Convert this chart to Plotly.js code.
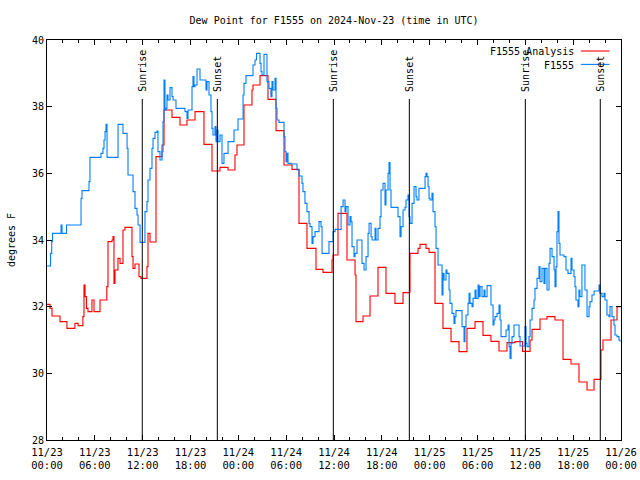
<!DOCTYPE html>
<html>
<head>
<meta charset="utf-8">
<script src="https://cdn.plot.ly/plotly-3.0.1.min.js"></script>
<style>html,body{margin:0;padding:0;background:#fff;}#chart{width:640px;height:480px;}</style>
</head>
<body>
<div id="chart"></div>
<script>
// Hours since 2024-11-23 00:00 UTC and dew point values (deg F)
var redHours = [0,0.38,0.63,1.63,2.5,3.5,3.9,4.5,4.64,4.77,
  4.95,5.14,5.64,5.9,6.65,7.5,7.65,8.15,8.28,8.4,
  8.53,8.9,9.16,9.53,9.78,10.66,10.79,11.04,11.54,11.79,
  12.54,12.67,12.92,13.67,14.43,14.68,15.68,16.68,17.56,
  18.57,19.69,20.7,21.7,22.7,23.58,23.83,24.71,25.71,25.84,
  26.72,27.72,28.73,29.73,30.73,31.61,32.61,33.74,34.62,35.75,
  35.88,36.5,37.63,38.64,38.76,39.64,40.52,41.52,42.52,43.65,
  44.66,45.53,46.54,46.79,47.54,47.92,48.67,49.67,50.68,51.68,
  52.68,53.69,54.69,55.69,56.7,57.7,58.7,59.65,60.59,60.84,
  61.84,62.72,63.72,64.73,65.73,66.73,67.74,68.62,69.49,69.74,
  70.75,71.5,72];
var redValues = [32.07,31.95,31.72,31.55,31.35,31.5,31.43,31.7,32.65,32.3,
  31.95,31.85,32.2,31.85,32.2,32.6,33.95,34.0,34.1,32.7,
  33.1,33.45,33.3,34.3,34.38,33.5,33.15,33.28,32.9,32.85,
  33.2,34.2,33.94,36.5,36.85,37.9,37.68,37.45,37.6,
  37.85,36.87,36.07,36.18,36.1,36.55,36.85,38.05,38.5,38.65,
  38.93,38.22,37.28,36.25,36.12,34.5,33.75,33.12,33.03,33.4,
  33.55,34.8,33.4,32.95,31.55,31.72,32.32,33.18,32.4,32.1,
  32.42,33.6,33.75,33.87,33.75,33.63,32.1,31.35,30.95,30.65,
  31.35,31.55,31.14,30.96,30.67,30.92,30.95,30.66,31.0,31.32,
  31.63,31.7,31.6,30.42,30.28,29.74,29.5,29.82,30.7,31.0,
  31.6,32.0,32.0];

var blueHours = [0,0.44,0.59,0.69,1.76,1.88,2.45,4.27,4.39,5.27,
  5.39,6.77,7.02,7.15,7.28,7.40,7.53,8.91,9.53,10.04,
  10.16,10.79,11.04,11.29,11.42,11.67,12.29,12.54,12.67,12.92,
  13.17,13.30,13.55,13.80,13.92,14.17,14.43,14.55,14.68,14.80,
  14.93,15.05,15.18,15.43,15.68,15.81,16.18,17.31,17.56,17.69,
  18.19,18.31,18.44,18.57,18.82,19.19,19.94,20.07,20.32,20.57,
  20.70,20.82,21.07,21.20,21.32,21.45,21.70,21.95,22.20,22.71,
  23.46,23.96,24.59,24.71,24.96,25.84,26.09,26.28,26.72,26.85,
  26.97,27.22,27.59,27.84,28.09,28.22,28.35,28.60,28.73,28.85,
  29.10,29.73,29.85,29.98,30.11,30.23,30.61,31.36,31.61,31.99,
  32.11,32.36,32.61,32.87,32.99,33.24,33.37,33.62,34.12,34.37,
  34.50,35.37,35.88,36.13,36.89,37.14,37.38,37.51,37.76,38.01,
  38.14,38.26,38.51,38.64,38.89,39.51,39.77,40.02,40.27,40.40,
  40.65,40.77,41.15,41.27,41.52,41.77,41.90,42.15,42.40,42.52,
  42.78,42.90,43.03,43.15,44.03,44.28,44.41,44.66,44.91,45.03,
  45.28,45.41,45.53,45.79,46.04,46.29,46.41,46.66,47.42,47.54,
  47.67,47.80,47.92,48.04,48.29,48.42,48.67,48.80,49.05,49.55,
  49.67,49.80,50.05,50.17,50.43,50.55,50.80,51.05,51.18,51.30,
  52.06,52.31,52.43,52.56,52.81,52.94,53.06,53.31,53.44,53.69,
  53.82,54.07,54.19,54.32,54.57,54.82,54.94,55.20,55.69,55.95,
  56.07,56.20,56.45,56.70,56.83,56.95,57.58,57.83,57.96,58.08,
  58.21,58.33,58.58,59.21,59.34,59.96,60.09,60.21,60.46,60.59,
  60.84,61.09,61.21,61.47,61.72,61.84,62.09,62.34,62.47,62.72,
  62.97,63.10,63.35,63.60,63.72,63.85,63.97,64.10,64.22,64.35,
  64.85,65.10,65.35,65.73,65.85,66.10,66.23,66.35,66.60,66.73,
  66.85,67.10,67.48,67.74,67.99,68.11,68.36,68.62,69.24,69.37,
  69.62,69.87,69.99,70.24,70.49,70.62,70.87,71.12,71.25,71.50,
  71.75,71.87];
var blueValues = [33.22,33.6,33.95,34.2,34.45,34.2,34.45,35.25,35.48,35.75,
  36.48,36.6,36.75,37.0,37.25,37.47,36.48,37.47,37.2,36.75,
  35.95,35.45,34.95,34.75,34.45,33.93,34.85,35.15,35.8,36.15,
  36.75,37.05,37.23,37.27,36.65,36.4,36.65,37.55,38.8,37.9,
  37.95,38.35,38.2,38.57,38.3,38.2,37.95,37.85,37.65,37.9,
  38.6,38.9,38.6,38.65,39.13,38.8,38.5,38.75,38.35,37.85,
  37.35,37.15,37.4,36.95,37.3,36.95,37.15,36.3,36.6,36.95,
  37.3,37.63,38.35,38.7,38.93,39.25,39.4,39.6,39.3,39.05,
  38.95,39.57,38.75,38.55,38.3,38.75,38.5,38.85,37.95,37.6,
  37.53,37.1,36.65,36.35,36.6,36.3,36.28,36.1,35.92,35.7,
  35.45,35.1,34.85,34.5,34.4,33.9,34.1,34.25,34.55,34.4,
  33.6,33.95,34.25,34.32,35.0,35.2,34.85,35.0,34.45,34.7,
  34.55,33.8,33.5,33.6,34.0,33.3,33.1,33.5,34.2,34.5,
  34.1,34.0,34.35,34.0,34.35,34.7,35.5,35.7,35.05,35.5,
  36.0,36.32,35.5,34.98,34.7,34.1,34.4,34.9,34.98,35.2,
  35.35,34.7,34.5,35.1,35.6,35.3,35.2,35.55,35.9,36.0,
  35.9,35.6,35.25,35.2,35.4,34.85,34.4,33.75,33.25,32.35,
  33.0,32.8,33.1,33.0,32.5,32.1,31.8,31.5,31.7,31.88,
  31.4,30.95,31.4,31.75,32.1,32.4,32.1,32.0,32.25,32.5,
  32.25,32.65,32.3,32.6,32.3,32.5,32.3,32.63,32.05,31.45,
  31.6,31.7,31.8,32.05,31.6,31.1,31.3,31.45,30.8,30.45,
  30.9,31.1,31.45,31.1,30.82,31.4,30.9,30.8,31.1,31.6,
  31.95,32.2,32.55,32.85,33.2,32.75,33.15,32.7,33.15,32.5,
  33.3,33.75,33.5,33.1,32.6,33.2,34.25,34.85,33.9,33.55,
  33.5,33.1,33.0,33.45,33.1,32.9,32.6,32.2,32.0,32.5,
  32.3,33.25,32.5,31.7,32.0,32.15,32.35,32.47,32.65,32.4,
  32.3,32.4,32.2,31.75,31.7,32.0,31.7,31.45,31.15,31.1,
  31.0,30.95];

var sunriseTimes = ['2024-11-23 11:57', '2024-11-24 11:55', '2024-11-25 12:00'];
var sunsetTimes  = ['2024-11-23 21:22', '2024-11-24 21:27', '2024-11-25 21:24'];

var seriesNames = ['F1555 Analysis', 'F1555'];
var seriesColors = ['#ff0000', '#0080ff'];

var START = Date.UTC(2024, 10, 23, 0, 0, 0);
function hToDate(h) {
  var d = new Date(START + Math.round(h * 3600000));
  return d.toISOString().slice(0, 19).replace('T', ' ');
}

var FONT = 'DejaVu Sans Mono, Liberation Mono, monospace';

var traces = [
  {x: redHours.map(hToDate), y: redValues, name: seriesNames[0], type: 'scatter', mode: 'lines',
   line: {color: seriesColors[0], width: 1.1, shape: 'hv'}, showlegend: false},
  {x: blueHours.map(hToDate), y: blueValues, name: seriesNames[1], type: 'scatter', mode: 'lines',
   line: {color: seriesColors[1], width: 1.1, shape: 'hv'}, showlegend: false}
];

var shapes = [];
var annotations = [];
function addSun(t, label) {
  shapes.push({type: 'line', xref: 'x', yref: 'paper', x0: t, x1: t, y0: 0, y1: 0.8525,
               line: {color: '#000', width: 1}});
  annotations.push({xref: 'x', yref: 'paper', x: t, y: 0.866, text: label, textangle: -90,
                    showarrow: false, xanchor: 'center', yanchor: 'bottom',
                    font: {family: FONT, size: 10, color: '#000'}});
}
sunriseTimes.forEach(function (t) { addSun(t, 'Sunrise'); });
sunsetTimes.forEach(function (t) { addSun(t, 'Sunset'); });

// Legend (gnuplot style: text right-aligned, sample to the right)
var legY = [0.9705, 0.937];
seriesNames.forEach(function (n, i) {
  annotations.push({xref: 'paper', yref: 'paper', x: 0.921, y: legY[i], text: n, showarrow: false,
                    xanchor: 'right', yanchor: 'middle', font: {family: FONT, size: 10, color: '#000'}});
  shapes.push({type: 'line', xref: 'paper', yref: 'paper', x0: 0.93, x1: 0.98, y0: legY[i] + 0.002, y1: legY[i] + 0.002,
               line: {color: seriesColors[i], width: 1.1}});
});

var layout = {
  width: 640, height: 480,
  margin: {l: 47, r: 19, t: 40, b: 40, pad: 0},
  paper_bgcolor: '#fff', plot_bgcolor: '#fff',
  font: {family: FONT, size: 10, color: '#000'},
  title: {text: 'Dew Point for F1555 on 2024-Nov-23 (time in UTC)', font: {family: FONT, size: 10},
          x: 0.522, xanchor: 'center', y: 0.958, yanchor: 'middle'},
  xaxis: {type: 'date', range: ['2024-11-23 00:00', '2024-11-26 00:00'],
          tick0: '2024-11-23 00:00', dtick: 21600000, tickformat: '%m/%d<br>%H:%M',
          ticks: 'inside', ticklen: 5, tickcolor: '#000', tickwidth: 1, ticklabelstandoff: 2,
          minor: {dtick: 7200000, ticks: 'inside', ticklen: 3, tickcolor: '#000'},
          showline: true, linecolor: '#000', linewidth: 1, mirror: 'allticks',
          showgrid: false, zeroline: false, tickfont: {family: FONT, size: 10.5}},
  yaxis: {range: [28, 40], dtick: 2, tick0: 28,
          ticks: 'inside', ticklen: 5, tickcolor: '#000', tickwidth: 1,
          showline: true, linecolor: '#000', linewidth: 1, mirror: 'allticks',
          showgrid: false, zeroline: false, tickfont: {family: FONT, size: 10},
          title: {text: 'degrees F', font: {family: FONT, size: 10}, standoff: 14}},
  shapes: shapes,
  annotations: annotations
};

Plotly.newPlot('chart', traces, layout, {displayModeBar: false, staticPlot: true});
</script>
</body>
</html>
